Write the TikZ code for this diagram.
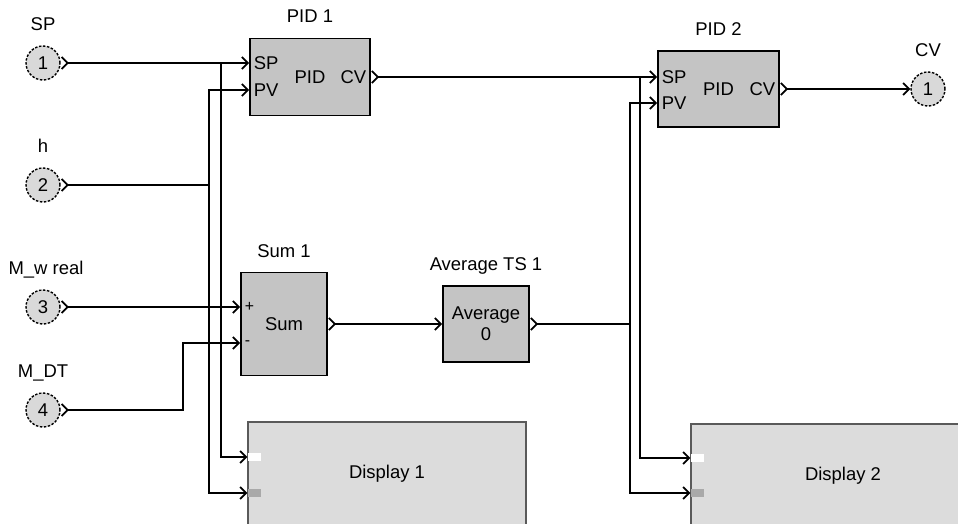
\documentclass[tikz,border=0pt]{standalone}
\usepackage{fontspec}
\setmainfont{Liberation Sans}
\usetikzlibrary{arrows.meta,positioning}
\definecolor{BlockGrey}{HTML}{C4C4C4}
\definecolor{PortGrey}{HTML}{D9D9D9}
\definecolor{DispGrey}{HTML}{DCDCDC}
\definecolor{DispEdge}{HTML}{5A5A5A}
\definecolor{SlotGrey}{HTML}{A9A9A9}

\begin{document}
\begin{tikzpicture}[x=0.02cm, y=-0.02cm, node distance=0.29cm, every node/.style={font=\fontsize{10.5}{12}\selectfont}, block/.style={draw, line width=1.1pt, fill=BlockGrey, align=center, inner sep=0pt}, disp/.style={draw=DispEdge, line width=0.8pt, fill=DispGrey, minimum height=2.08cm}, inport/.style={circle, draw, dash pattern=on 1.4pt off 0.9pt, line width=0.8pt, fill=PortGrey, minimum size=0.68cm, inner sep=0pt}, ttl/.style={inner sep=0pt, text depth=0pt}, tag/.style={inner sep=2.5pt}, slot/.style={minimum width=0.26cm, minimum height=0.17cm, inner sep=0pt, anchor=west}, wire/.style={line width=1pt, -{Straight Barb[length=1.2mm,width=2.4mm]}}, sigstart/.style={line width=1pt, {Straight Barb[reversed,length=1.2mm,width=2.4mm]}-}, sigio/.style={line width=1pt, {Straight Barb[reversed,length=1.2mm,width=2.4mm]}-{Straight Barb[length=1.2mm,width=2.4mm]}}]
\useasboundingbox (0,0) rectangle (958,524);
\clip (0,0) rectangle (958,524);
% inputs and output
\node[inport] (c1) at (43,63) {1};
\node[inport] (c2) at (43,185) {2};
\node[inport] (c3) at (43,307) {3};
\node[inport] (c4) at (43,410) {4};
\node[inport] (ccv) at (928,89) {1};
\node[ttl] (lsp) [above=of c1] {SP};
\node[ttl] (lh) [above=of c2] {h};
\node[ttl] (lmw) [above=of c3, xshift=0.06cm] {M\_w real};
\node[ttl] (lmdt) [above=of c4] {M\_DT};
\node[ttl] (lcv) [above=of ccv] {CV};
% blocks
\node[block, minimum width=2.4cm, minimum height=1.54cm] (pid1) at (310,77) {};
\node[block, minimum width=2.42cm, minimum height=1.52cm] (pid2) at (718.5,89) {};
\node[block, minimum width=1.72cm, minimum height=2.06cm] (sum1) at (284,324) {Sum};
\node[block, minimum width=1.72cm, minimum height=1.52cm] (avg) at (486,324) {Average\\0};
\node[disp, minimum width=5.56cm] (disp1) at (387,474) {Display 1};
\node[disp, minimum width=6.08cm] (disp2) at (843,476) {Display 2};
\node[ttl] (tpid1) [above=of pid1] {PID 1};
\node[ttl] (tpid2) [above=of pid2] {PID 2};
\node[ttl] (tsum1) [above=0.27cm of sum1] {Sum 1};
\node[ttl] (tavg) [above=of avg] {Average TS 1};
% block pins
\node[tag, anchor=west] (p1sp) at (pid1.west |- 0,63) {SP};
\node[tag, anchor=west] (p1pv) at (pid1.west |- 0,90) {PV};
\node (p1pid) at (pid1) {PID};
\node[tag, anchor=east] (p1cv) at (pid1.east) {CV};
\node[tag, anchor=west] (p2sp) at (pid2.west |- 0,77) {SP};
\node[tag, anchor=west] (p2pv) at (pid2.west |- 0,103) {PV};
\node (p2pid) at (pid2) {PID};
\node[tag, anchor=east] (p2cv) at (pid2.east) {CV};
\node[tag, anchor=west, font=\fontsize{9}{10}\selectfont] (s1p) at (sum1.west |- 0,307) {+};
\node[tag, anchor=west, font=\fontsize{9}{10}\selectfont] (s1m) at (sum1.west |- 0,343) {-};
\node[slot, fill=white] (d1a) at (disp1.west |- 0,457) {};
\node[slot, fill=SlotGrey] (d1b) at (disp1.west |- 0,493) {};
\node[slot, fill=white] (d2a) at (disp2.west |- 0,458) {};
\node[slot, fill=SlotGrey] (d2b) at (disp2.west |- 0,493) {};
% junctions
\coordinate (j1) at (221,63);
\coordinate (j2) at (209,185);
\coordinate (j3) at (183,410);
\coordinate (j4) at (630,324);
\coordinate (j5) at (640,77);
% wires
\draw[sigio] (c1.east) -- (p1sp.west);
\draw[wire] (j1) |- (d1a.west);
\draw[sigstart] (c2.east) -- (j2);
\draw[wire] (j2) |- (p1pv.west);
\draw[wire] (j2) |- (d1b.west);
\draw[sigio] (c3.east) -- (s1p.west);
\draw[sigio] (c4.east) -- (j3) |- (s1m.west);
\draw[sigio] (sum1.east) -- (avg.west);
\draw[sigstart] (avg.east) -- (j4);
\draw[wire] (j4) |- (p2pv.west);
\draw[wire] (j4) |- (d2b.west);
\draw[sigio] (pid1.east) -- (p2sp.west);
\draw[wire] (j5) |- (d2a.west);
\draw[sigio] (pid2.east) -- (ccv.west);
\end{tikzpicture}
\end{document}
